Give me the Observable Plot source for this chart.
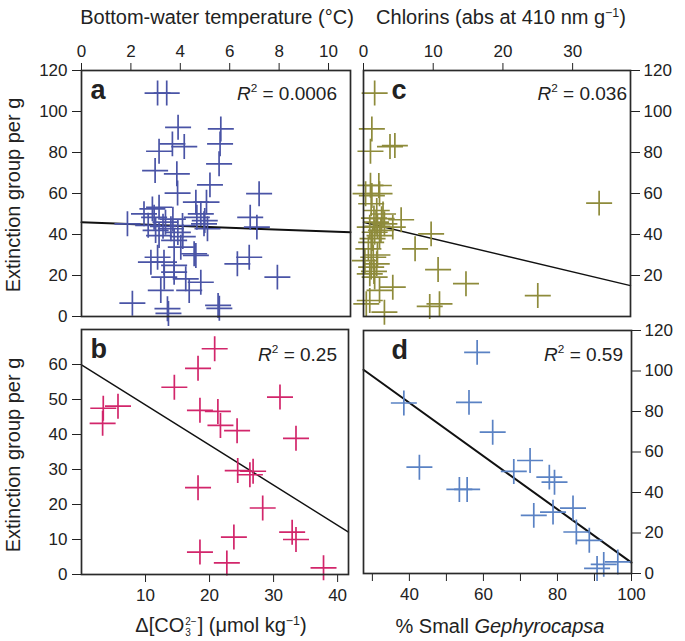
<!DOCTYPE html>
<html><head><meta charset="utf-8">
<script src="https://cdn.jsdelivr.net/npm/d3@7"></script>
<script src="https://cdn.jsdelivr.net/npm/@observablehq/plot@0.6"></script>
<style>
body{margin:0;background:#fff;}
#chart{position:relative;width:685px;height:641px;font-family:"Liberation Sans",Arial,Helvetica,sans-serif;color:#222;overflow:hidden;}
#chart svg{position:absolute;left:0;top:0;}
.t{position:absolute;white-space:nowrap;font-size:20px;line-height:1;transform:translate(-50%,-50%);}
.r2{position:absolute;white-space:nowrap;font-size:19px;line-height:1;transform:translateY(-50%);text-align:right;}
.rot{transform:translate(-50%,-50%) rotate(-90deg);}
sup.s{font-size:0.62em;vertical-align:0.6em;line-height:0;}
.stk{display:inline-block;vertical-align:-4px;line-height:1.15;font-size:10px;text-align:left;margin:0 1px;}
.stk span{display:block;}
</style></head><body><div id="chart"></div>
<script>
// ---- Data ----
// Panel a: bottom-water temperature (°C) vs extinction group per g
const aTemp = [3.08,3.45,3.91,5.64,3.14,3.68,4.16,5.61,2.98,3.86,5.57,5.20,3.89,7.19,4.63,5.06,3.14,2.87,1.86,6.83,7.10,4.99,4.67,5.10,2.53,2.94,4.96,4.83,3.00,3.14,3.62,4.09,3.75,4.02,3.40,3.70,3.30,3.90,2.70,6.79,6.31,4.56,2.81,3.08,3.34,4.63,7.93,3.75,3.35,4.22,4.83,3.21,4.36,2.06,5.53,5.58,3.48,3.52,3.75,4.10];
const aExt  = [109,109,92.3,91.5,80.6,84.2,82.9,84.2,71.2,69.6,74.5,64.2,60.2,59.9,55.8,55.8,53.3,52.5,45.2,48.4,43.6,46.8,48.4,42.8,50.1,48.4,45.2,50.1,42.0,39.5,42.8,44.4,37.1,33.8,46.0,47.5,44.0,41.0,44.5,28.9,25.7,30.6,26.5,28.9,26.5,29.8,19.2,21.6,19.2,18.4,16.7,12.7,12.7,6.5,5.4,4.0,3.8,1.5,24.9,39.0];
// Panel c: chlorins vs extinction group per g
const cChl = [1.6,1.2,1.0,3.8,4.5,2.2,1.2,0.3,2.3,33.8,1.1,1.9,2.6,3.0,5.4,4.2,9.7,0.9,1.6,1.1,2.3,0.7,7.4,1.4,0.2,1.9,1.1,0.9,1.6,10.7,14.7,25.0,9.5,10.9,4.2,3.0,2.3,0.9,0.4,1.8,2.0,1.5,2.5,1.3,2.0,1.5,2.8,1.0];
const cExt = [109,91.5,80.6,82.9,83.4,63.9,59.0,59.9,59.9,55.3,55.0,51.7,47.7,45.2,47.2,43.6,40.3,43.6,41.1,36.2,39.5,33.0,33.0,28.9,27.3,25.7,24.1,20.8,19.2,22.9,16.0,10.2,4.9,6.2,14.3,2.1,12.7,7.8,6.2,46.0,44.0,48.0,42.0,38.0,30.0,22.0,50.0,64.0];
// Panel b: Δ[CO3 2-] vs extinction group per g
const bCO3 = [20.8,18.2,14.5,31.0,3.4,5.7,18.5,21.3,3.3,21.7,24.3,33.5,24.4,26.3,26.8,18.2,28.3,23.8,32.9,33.5,18.5,22.7,37.8];
const bExt = [64.5,58.9,53.5,50.7,47.5,48.1,46.9,46.6,43.2,42.6,41.1,38.9,29.7,28.5,29.5,24.8,19.0,10.7,12.1,10.0,6.4,3.3,1.9];
// Panel d: % small Gephyrocapsa vs extinction group per g
const dGep = [58.3,38.5,56.1,62.5,42.7,72.6,68.2,53.5,55.6,77.8,79.2,73.6,78.8,84.2,85.1,88.6,90.7,92.5,96.3];
const dExt = [109.2,84.2,84.5,69.8,52.5,55.8,50.4,41.5,41.5,47.6,45.1,28.7,30.3,32.3,20.5,16.4,2.5,4.5,5.7];
// Regression fits [intercept, slope]
const fitA = [46.0, -0.45];
const fitC = [46.0, -0.807];
const fitB = [59.9, -1.146];
const fitD = [136.9, -1.315];
// Tick values
const ticksTemp = [0,2,4,6,8,10];
const ticksChl = [0,10,20,30];
const ticksCO3 = [10,20,30,40];
const ticksGep = [30,40,50,60,70,80,90,100];
const ticksExtTop = [0,20,40,60,80,100,120];
const ticksExtC = [20,40,60,80,100,120];
const ticksExtB = [0,10,20,30,40,50,60];
const ticksExtD = [0,20,40,60,80,100,120];

const W = 685, H = 641;
const cross = {draw(ctx, size){const s = Math.sqrt(size/Math.PI); ctx.moveTo(-s,0); ctx.lineTo(s,0); ctx.moveTo(0,-s*0.96); ctx.lineTo(0,s*0.96);}};
const FONT = '"Liberation Sans", Arial, Helvetica, sans-serif';

function panel(o){
  const [l, r, t, b] = o.box;
  const pts = o.xs.map((x,i)=>({x, y:o.ys[i]}));
  const fitPts = o.xDomain.map(x=>({x, y:o.fit[0]+o.fit[1]*x}));
  return Plot.plot({
    width: W, height: H,
    marginLeft: l, marginRight: W - r, marginTop: t, marginBottom: H - b,
    style: {background: "transparent", fontFamily: FONT, fontSize: "17px", color: "#222", overflow: "visible"},
    x: {domain: o.xDomain, axis: o.xAxis, ticks: o.xTicks, tickSize: 8, tickPadding: o.xPad, label: null, tickFormat: o.xFormat || (d=>d)},
    y: {domain: o.yDomain, axis: o.yAxis, ticks: o.yTicks, tickSize: 9, tickPadding: o.yPad, label: null, tickFormat: d=>d},
    marks: [
      Plot.line(fitPts, {x:"x", y:"y", stroke:"#111", strokeWidth:o.lw}),
      Plot.dot(pts, {x:"x", y:"y", symbol: cross, r: 13, stroke: o.color, strokeWidth: 1.7, fill: "none"}),
      Plot.frame({stroke:"#2a2a2a", strokeWidth:1.7}),
      Plot.text([o.letter], {frameAnchor:"top-left", text:d=>d, dx:o.ldx, dy:20, textAnchor:"start", lineAnchor:"middle", fontWeight:"bold", fontSize:27, fill:"#222"})
    ]
  });
}

const chart = document.getElementById("chart");
chart.append(panel({box:[81,350,70,316], xs:aTemp, ys:aExt, xDomain:[0,10.89], yDomain:[0,120], xAxis:"top", yAxis:"left", xTicks:ticksTemp, yTicks:ticksExtTop, xPad:6, yPad:5, color:"#4a54a6", fit:fitA, lw:2, letter:"a", ldx:9}));
chart.append(panel({box:[363,630,70,316], xs:cChl, ys:cExt, xDomain:[0,38.3], yDomain:[0,120], xAxis:"top", yAxis:"right", xTicks:ticksChl, yTicks:ticksExtC, xPad:6, yPad:4, color:"#8e8b3b", fit:fitC, lw:1.4, letter:"c", ldx:28}));
chart.append(panel({box:[81,348,329,574], xs:bCO3, ys:bExt, xDomain:[0,41.7], yDomain:[0,70], xAxis:"bottom", yAxis:"left", xTicks:ticksCO3, yTicks:ticksExtB, xPad:6, yPad:5, color:"#d2266b", fit:fitB, lw:1.4, letter:"b", ldx:9}));
chart.append(panel({box:[363,631,330,573], xs:dGep, ys:dExt, xDomain:[27.6,100], yDomain:[0,120], xAxis:"bottom", yAxis:"right", xTicks:ticksGep, yTicks:ticksExtD, xPad:6, yPad:4, xFormat:d=>d%20===0?d:"", color:"#5a82c4", fit:fitD, lw:2, letter:"d", ldx:28}));

const html = `
<div class="t" style="left:217px;top:17px">Bottom-water temperature (°C)</div>
<div class="t" style="left:501px;top:17px">Chlorins (abs at 410 nm g<sup class="s">−1</sup>)</div>
<div class="t" style="left:221px;top:627px">Δ[CO<span class="stk"><span>2−</span><span>3</span></span>] (μmol kg<sup class="s">−1</sup>)</div>
<div class="t" style="left:500px;top:626px">% Small <i>Gephyrocapsa</i></div>
<div class="t rot" style="left:13px;top:195px">Extinction group per g</div>
<div class="t rot" style="left:13px;top:455px">Extinction group per g</div>
<div class="r2" style="right:${W-337}px;top:93px"><i>R</i><sup class="s">2</sup> = 0.0006</div>
<div class="r2" style="right:${W-627}px;top:93px"><i>R</i><sup class="s">2</sup> = 0.036</div>
<div class="r2" style="right:${W-337}px;top:354px"><i>R</i><sup class="s">2</sup> = 0.25</div>
<div class="r2" style="right:${W-623}px;top:354px"><i>R</i><sup class="s">2</sup> = 0.59</div>`;
chart.insertAdjacentHTML("beforeend", html);
</script></body></html>
